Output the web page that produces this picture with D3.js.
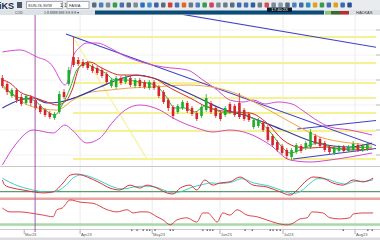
<!DOCTYPE html>
<html>
<head>
<meta charset="utf-8">
<script src="https://cdn.jsdelivr.net/npm/d3@7"></script>
<style>
  body { margin: 0; background: #fff; overflow: hidden; }
  svg { display: block; font-family: "Liberation Sans", Arial, sans-serif; }
</style>
</head>
<body>
<script>
// candles (bar index 0..77)
const open  = [122,116,104,110,103,97,103,100,94,90,87,82,88,108,116,143,140,138,137,134,132,130,126,114,113,122,118,122,114,120,118,112,118,113,108,100,93,88,92,97,92,87,84,90,97,92,87,85,96,94,97,90,86,73,74,77,73,64,58,54,50,43,48,54,52,53,64,61,57,53,47,49,53,49,50,55,50,51]
const close = [114,108,110,100,96,104,97,92,88,85,83,86,106,103,130,135,136,134,132,129,127,124,118,120,122,117,123,115,120,114,113,118,112,104,98,92,84,94,98,89,86,81,93,102,88,84,81,92,88,85,83,81,80,80,80,70,60,55,50,47,44,50,55,49,57,68,57,54,50,48,52,53,49,53,56,50,54,55]
const high  = [125,118,112,112,106,106,105,102,96,92,89,88,109,111,133,163,143,141,139,136,134,132,128,122,124,124,125,124,122,122,120,120,120,115,110,102,95,96,100,99,94,89,95,106,99,94,89,94,98,96,107,92,88,82,82,79,75,66,60,56,52,52,57,56,59,71,66,63,59,55,54,55,55,55,59,57,56,57]
const low   = [112,105,102,97,94,95,94,90,86,83,81,80,86,101,114,133,134,132,130,127,125,122,115,112,111,115,116,113,112,112,111,110,110,102,96,89,81,86,90,87,84,79,82,88,86,82,79,83,86,83,81,79,78,71,72,68,58,53,48,45,41,40,46,47,50,51,55,52,48,46,45,47,47,48,48,48,48,49]

// indicator lines as [bar index, value]
const bbUpper = [[0,148],[3.7,150],[7.3,143],[10,137],[11.1,130],[12.2,120],[13.2,115],[14.3,127],[14.9,143],[16.4,153],[17.8,157],[20,157],[22.7,152],[25.4,145],[30,137],[33.9,133],[39,130],[42.3,120],[45.3,110],[48,100],[50.8,98],[52.9,100],[55.4,96],[58.1,98],[61.1,96],[63.2,90],[65.9,81],[69.1,73],[73.3,70],[78,65]]
const bbLower = [[0,35],[2.7,55],[6.5,70],[10.7,67],[13.2,75],[14.7,70],[17.8,57],[20.6,62],[23.3,78],[25.9,90],[29,95],[33.2,90],[36,82],[41,72],[44.4,68],[48,70],[52.2,66],[56.5,55],[60.7,40],[64.9,38],[69.1,40],[73.3,43],[78,47]]
const maRed = [[0,120],[1.6,117],[3.7,108],[6.5,103],[9.4,98],[11.5,95],[13.6,100],[14.7,110],[16.4,134],[18.5,138],[20.6,133],[22.7,128],[24.8,125],[26.9,125],[31.8,122],[35.4,112],[39.6,102],[43.2,93],[48,88],[52.2,87],[55.8,77],[59.2,60],[62.2,53],[64.9,52],[68.5,53],[73.3,50],[78,51]]
const maGreen = [[0,115],[1.6,108],[3.7,102],[6.5,100],[9,90],[11.1,85],[12.6,95],[14.3,112],[15.7,130],[17.4,136],[19.5,132],[21.7,127],[23.8,120],[25.9,120],[29,118],[32.2,115],[34.3,105],[36.4,92],[38.5,92],[40.6,88],[42.7,94],[44.9,90],[47,87],[50.1,88],[52.2,83],[54.3,78],[56.5,68],[58.6,55],[60.7,47],[62.8,50],[64.9,55],[67,57],[70.2,51],[73.3,52],[78,53]]
const maOrange = [[0,113],[1.6,107],[6.5,93],[11.5,90],[14.9,100],[17.8,107],[22.7,110],[26.9,112],[31.8,113],[39,115],[45.3,112],[50.1,105],[54.3,95],[60.7,78],[67,63],[73.3,57],[78,55]]
const maBlue = [[0,92],[3.7,100],[6.5,102],[9.4,97],[12.2,98],[15.7,103],[20.6,113],[24.2,120],[28.4,125],[31.8,122],[35.4,115],[41,103],[45.9,92],[52.2,83],[59.2,70],[66.4,57],[73.3,53],[78,57]]

// trend lines and fibonacci
const trendLines = [[[13.4,166],[79.7,53]], [[37.5,186],[79.7,152]], [[62.2,71],[79.7,80]], [[61.3,41],[79.7,52]]]
const fibStart = 14.9
const fibLevels = [163,137,117,102,87,69,41]
const fibDiag = [[14.9,163],[30.5,41]]

// oscillators
const stochK = [[0,63],[0.5,44],[2.2,33],[4.3,26],[6.5,19],[8.6,15],[10.7,19],[12.8,52],[14.3,81],[15.7,85],[17.9,74],[20.6,52],[22.7,33],[24.8,26],[26.9,44],[29,33],[30.5,44],[32.6,33],[34.7,15],[36,11],[37.5,33],[39.6,44],[41,26],[42.7,63],[44.4,44],[45.9,52],[48,56],[50.1,74],[52.9,44],[55.8,37],[58.6,19],[60.7,7],[62.2,26],[64.3,63],[65.5,74],[67.6,70],[69.7,52],[71.9,44],[74,63],[76.1,56],[78.2,70]]
const stochD = [[0,70],[1.5,55],[3.5,40],[5.5,30],[7.5,22],[9.5,18],[11.5,22],[13.5,45],[15,72],[16.8,82],[19,72],[21.5,52],[23.5,36],[25.5,30],[28,38],[30,40],[32,38],[34,26],[36,15],[38,22],[40,36],[42,45],[44,52],[46,50],[48.5,56],[50.5,68],[53,52],[56,42],[59,24],[61.2,12],[63,22],[65,52],[66.5,68],[68.5,66],[70.5,54],[72.5,48],[74.5,58],[76.5,58],[78.2,64]]
const rsi = [[0,60],[1.6,53],[3.7,53],[5.8,51],[8.6,47],[10.7,44],[11.5,57],[12.6,60],[14.3,75],[16.4,71],[19.1,69],[22.1,57],[24.2,53],[26.3,57],[27.6,51],[29,53],[30.5,53],[32.6,44],[33.9,38],[35.4,29],[36.8,38],[38.9,42],[41,34],[42.3,51],[43.4,51],[44.2,44],[45.3,34],[46.5,51],[48,47],[49.5,57],[51.6,47],[53.7,44],[55.8,38],[57.9,32],[60,29],[61.3,32],[62.8,40],[64.3,42],[65.3,53],[67.6,51],[69.1,42],[71.2,40],[73.3,42],[74,49],[76.1,51],[78.2,51]]

// time axis
const dateTicks = [4.6,16.4,31.6,45.9,59.2,74.4]
const dateLabels = ["Mar23","Apr23","May23","Jun23","Jul23","Aug23"]
const eventMarks = [27.3,28.4,29.7,30.5,31.1,32.2,35.4,36,42.3,43.2,43.8,44.4,51.2,52.7,56.5,57.1,57.9,58.6,71.9,77.1,78]
const cursorIdx = 6.9
const gridPrices = [170,145,120,95,70,45]

const W = 380, H = 240
const svg = d3.select("body").append("svg").attr("width", W).attr("height", H)

const x = d3.scaleLinear().domain([0, 77]).range([2.4, 367.4])
const y = d3.scaleLinear().domain([35, 185]).range([165, 15])
const yK = d3.scaleLinear().domain([0, 100]).range([197, 170])
const yR = d3.scaleLinear().domain([25, 75]).range([227, 200])

svg.append("defs").append("clipPath").attr("id", "main")
  .append("rect").attr("x", 0).attr("y", 15).attr("width", 376).attr("height", 151)

// ---- toolbar
svg.append("rect").attr("width", W).attr("height", 10).attr("fill", "#e8ecef")
svg.append("text").attr("x", -1).attr("y", 8.5).attr("font-size", 9).attr("font-weight", "bold")
  .attr("fill", "#1c2c4c").text("iKS")
svg.append("rect").attr("x", 17).attr("y", 2).attr("width", 5).attr("height", 6).attr("fill", "#4a5568")
svg.append("rect").attr("x", 26.5).attr("y", 1.5).attr("width", 36).attr("height", 7)
  .attr("fill", "#fff").attr("stroke", "#aab")
svg.append("text").attr("x", 28).attr("y", 6.5).attr("font-size", 4).attr("fill", "#333").text("SUN-IS-SVW")
svg.append("text").attr("x", 60).attr("y", 7).attr("font-size", 5).attr("fill", "#333").text("1  1")
svg.append("rect").attr("x", 67).attr("y", 1.5).attr("width", 22).attr("height", 7)
  .attr("fill", "#fff").attr("stroke", "#aab")
svg.append("text").attr("x", 69).attr("y", 6.5).attr("font-size", 4).attr("fill", "#333").text("FASIA")
const iconColors = ["#5a6a80","#4a80c0","#7a8a9a","#3a9a4a","#4a70b0","#5a6a80","#7a8a9a","#2a70c0","#3a90d0","#4060a0","#5a6a80","#d04040","#4a70b0","#e06a20","#6a7a8a","#4a80c0","#3a9a4a","#d04060","#7a8a9a","#6a7a8a","#5a6a80","#3a6ab0","#4a70b0","#2a60a0","#6a7a8a","#d05050","#7a8a9a","#8a9aaa","#5a6a80","#4a80c0","#3a6ab0","#2a90c0","#e0a020","#3a9a4a","#4a70b0","#e0a020","#3a6ab0","#2a5090"]
svg.selectAll(".icon").data(iconColors).join("rect").attr("class", "icon")
  .attr("x", (d, i) => 92 + i * 6.9).attr("y", 2.5).attr("width", 4.5).attr("height", 5)
  .attr("rx", 1).attr("fill", d => d)

// second row
svg.append("rect").attr("y", 10).attr("width", W).attr("height", 5).attr("fill", "#dde2e6")
svg.append("text").attr("x", 15).attr("y", 14).attr("font-size", 3.5).attr("fill", "#444").text("COD")
svg.append("text").attr("x", 44).attr("y", 14).attr("font-size", 3.5).attr("fill", "#444").text("1:8  8888 888 8:8 8:8 \u25be")
svg.append("rect").attr("x", 95).attr("y", 10.5).attr("width", 229).attr("height", 4).attr("fill", "#0c4d78")
svg.append("rect").attr("x", 325).attr("y", 11).attr("width", 6).attr("height", 3.5).attr("fill", "#8cc47a")
svg.append("rect").attr("x", 331).attr("y", 11).attr("width", 9).attr("height", 3.5).attr("fill", "#3a6a30")
svg.append("rect").attr("x", 340).attr("y", 11).attr("width", 9).attr("height", 3.5).attr("fill", "#b83030")
svg.append("text").attr("x", 356).attr("y", 14).attr("font-size", 4).attr("fill", "#333").text("HADKAS")
svg.append("rect").attr("x", 267).attr("y", 7.5).attr("width", 25).attr("height", 4.5).attr("fill", "#0a1a2c")
svg.append("text").attr("x", 279.5).attr("y", 11.3).attr("text-anchor", "middle").attr("font-size", 4.2)
  .attr("fill", "#fff").text("17:40:23")

// ---- grids and panel frames
svg.selectAll(".hgrid").data(gridPrices).join("line").attr("class", "hgrid")
  .attr("x1", 0).attr("x2", 376).attr("y1", d => y(d)).attr("y2", d => y(d))
  .attr("stroke", "#eeeeee").attr("stroke-width", 0.7)
svg.selectAll(".rtick").data(gridPrices).join("line").attr("class", "rtick")
  .attr("x1", 376).attr("x2", 380).attr("y1", d => y(d)).attr("y2", d => y(d))
  .attr("stroke", "#999").attr("stroke-width", 0.7)
svg.selectAll(".vgrid").data(dateTicks.slice(1)).join("line").attr("class", "vgrid")
  .attr("x1", d => x(d)).attr("x2", d => x(d)).attr("y1", 15).attr("y2", 229)
  .attr("stroke", "#e6e6e6").attr("stroke-width", 0.8)
svg.append("line").attr("x1", 0).attr("x2", W).attr("y1", 166.5).attr("y2", 166.5).attr("stroke", "#c8c8c8")
svg.append("line").attr("x1", 0).attr("x2", W).attr("y1", 229.5).attr("y2", 229.5).attr("stroke", "#c8c8c8")
svg.append("rect").attr("y", 237.5).attr("width", W).attr("height", 3).attr("fill", "#dcdcdc")

// ---- main panel
const main = svg.append("g").attr("clip-path", "url(#main)")
const curve = d3.line().x(d => x(d[0])).y(d => y(d[1])).curve(d3.curveMonotoneX)
const straight = d3.line().x(d => x(d[0])).y(d => y(d[1]))

main.selectAll(".fib").data(fibLevels).join("line").attr("class", "fib")
  .attr("x1", x(fibStart)).attr("x2", 380).attr("y1", d => y(d)).attr("y2", d => y(d))
  .attr("stroke", "#f5f294").attr("stroke-width", 1.8)
main.append("path").attr("d", straight(fibDiag)).attr("fill", "none")
  .attr("stroke", "#f5f294").attr("stroke-width", 1.2)

main.selectAll(".trend").data(trendLines).join("path").attr("class", "trend")
  .attr("d", straight).attr("fill", "none").attr("stroke", "#3f3fc4").attr("stroke-width", 1.1)

const lines = [
  {d: bbUpper, c: "#d24ad2", w: 1},
  {d: bbLower, c: "#d24ad2", w: 1},
  {d: maOrange, c: "#f0a448", w: 1},
  {d: maBlue, c: "#3a3a9c", w: 1.2},
  {d: maRed, c: "#d42a2a", w: 1},
  {d: maGreen, c: "#2fb52f", w: 1}
]
main.selectAll(".ind").data(lines).join("path").attr("class", "ind")
  .attr("d", d => curve(d.d)).attr("fill", "none")
  .attr("stroke", d => d.c).attr("stroke-width", d => d.w)

const bars = d3.range(open.length)
const col = i => close[i] >= open[i] ? "#1fae2a" : "#d8232a"
main.selectAll(".wick").data(bars).join("line").attr("class", "wick")
  .attr("x1", i => x(i)).attr("x2", i => x(i)).attr("y1", i => y(high[i])).attr("y2", i => y(low[i]))
  .attr("stroke", col).attr("stroke-width", 0.8)
main.selectAll(".body").data(bars).join("rect").attr("class", "body")
  .attr("x", i => x(i) - 1.3).attr("width", 2.6)
  .attr("y", i => y(Math.max(open[i], close[i])))
  .attr("height", i => Math.max(0.8, Math.abs(y(open[i]) - y(close[i]))))
  .attr("fill", col)

// ---- stochastic panel
const kLine = d3.line().x(d => x(d[0])).y(d => yK(d[1])).curve(d3.curveMonotoneX)
svg.append("line").attr("x1", 0).attr("x2", W).attr("y1", yK(20)).attr("y2", yK(20))
  .attr("stroke", "#5a9f6a").attr("stroke-width", 1.2)
svg.append("path").attr("d", kLine(stochD)).attr("fill", "none").attr("stroke", "#3fd0c4").attr("stroke-width", 1)
svg.append("path").attr("d", kLine(stochK)).attr("fill", "none").attr("stroke", "#d8303a").attr("stroke-width", 1)
svg.append("rect").attr("y", 197.5).attr("width", W).attr("height", 2.5).attr("fill", "#e8a3a3")

// ---- rsi panel
const rLine = d3.line().x(d => x(d[0])).y(d => yR(d[1])).curve(d3.curveMonotoneX)
svg.append("rect").attr("y", yR(30) - 1).attr("width", W).attr("height", 2.5).attr("fill", "#a9d8a9")
svg.append("path").attr("d", rLine(rsi)).attr("fill", "none").attr("stroke", "#d8303a").attr("stroke-width", 0.9)

// ---- cursor
svg.append("line").attr("x1", x(cursorIdx)).attr("x2", x(cursorIdx)).attr("y1", 15).attr("y2", 232)
  .attr("stroke", "#a05aa8").attr("stroke-width", 1)

// ---- time axis
svg.selectAll(".emark").data(eventMarks).join("rect").attr("class", "emark")
  .attr("x", d => x(d) - 0.5).attr("y", 229.5).attr("width", 1).attr("height", 1.5).attr("fill", "#333")
svg.selectAll(".dtick").data(dateTicks).join("line").attr("class", "dtick")
  .attr("x1", d => x(d)).attr("x2", d => x(d)).attr("y1", 230).attr("y2", 234).attr("stroke", "#777").attr("stroke-width", 0.6)
svg.selectAll(".dlab").data(dateTicks).join("text").attr("class", "dlab")
  .attr("x", d => x(d) + 0.8).attr("y", 235.5).attr("font-size", 4).attr("fill", "#555")
  .text((d, i) => dateLabels[i])
</script>
</body>
</html>
